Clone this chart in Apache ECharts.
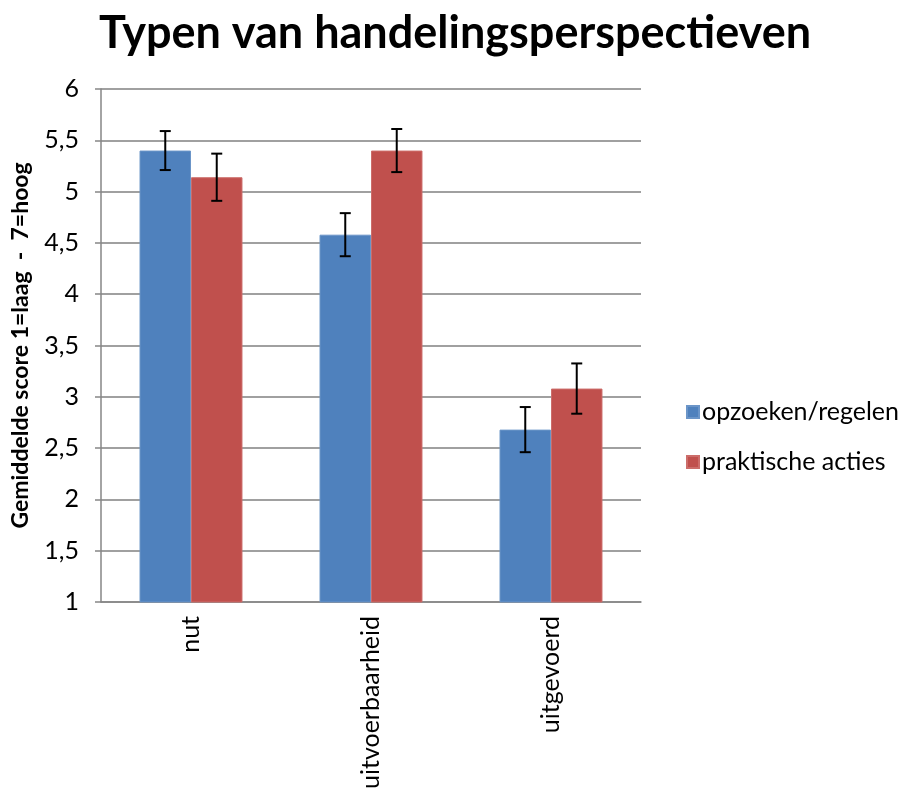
<!DOCTYPE html>
<html>
<head>
<meta charset="utf-8">
<script src="https://cdn.jsdelivr.net/npm/echarts@6/dist/echarts.min.js"></script>
<style>
  html, body { margin: 0; padding: 0; background: #fff; }
  #chart { width: 903px; height: 792px; }
</style>
</head>
<body>
<div id="chart"></div>
<script>
var categories = ['nut', 'uitvoerbaarheid', 'uitgevoerd'];
var opzoeken = [5.40, 4.58, 2.68];
var opzoekenErr = [0.19, 0.21, 0.22];
var praktisch = [5.14, 5.40, 3.08];
var praktischErr = [0.23, 0.21, 0.245];

var FONT = 'Lato, "Open Sans", sans-serif';
var barFrac = 0.286;

function errData(vals, errs) {
    return vals.map(function (v, i) {
        return [i, v - errs[i], v + errs[i]];
    });
}

// foutbalk links (-1) of rechts (+1) van het categoriemidden
function errRender(side) {
    return function (params, api) {
        var i = api.value(0);
        var lo = api.coord([i, api.value(1)]);
        var hi = api.coord([i, api.value(2)]);
        var bw = api.size([1, 0])[0] * barFrac;
        var x = lo[0] + side * bw / 2;
        var cap = 5.5;
        var st = { stroke: '#000', lineWidth: 2 };
        return {
            type: 'group',
            children: [
                { type: 'line', shape: { x1: x, y1: hi[1], x2: x, y2: lo[1] }, style: st },
                { type: 'line', shape: { x1: x - cap, y1: hi[1], x2: x + cap, y2: hi[1] }, style: st },
                { type: 'line', shape: { x1: x - cap, y1: lo[1], x2: x + cap, y2: lo[1] }, style: st }
            ]
        };
    };
}

var chart = echarts.init(document.getElementById('chart'));
chart.setOption({
    animation: false,
    title: {
        text: 'Typen van handelingsperspectieven',
        left: 450,
        textAlign: 'center',
        top: 6,
        textStyle: { fontFamily: FONT, fontSize: 45, fontWeight: 'bold', color: '#000' }
    },
    legend: {
        orient: 'vertical',
        left: 681,
        top: 393,
        itemWidth: 12,
        itemHeight: 12,
        itemGap: 22,
        icon: 'rect',
        data: ['opzoeken/regelen', 'praktische acties'],
        textStyle: { fontFamily: FONT, fontSize: 25, lineHeight: 28, color: '#000', padding: [0, 0, 0, -2] }
    },
    grid: { left: 101, right: 262, top: 89, bottom: 190 },
    xAxis: {
        type: 'category',
        data: categories,
        axisLine: { lineStyle: { color: '#868686', width: 1.5 } },
        axisTick: { show: false },
        axisLabel: {
            rotate: 90,
            margin: 14,
            fontFamily: FONT,
            fontSize: 25,
            color: '#000'
        }
    },
    yAxis: {
        type: 'value',
        min: 1,
        max: 6,
        interval: 0.5,
        name: 'Gemiddelde score 1=laag  -  7=hoog',
        nameLocation: 'middle',
        nameGap: 69,
        nameTextStyle: { fontFamily: FONT, fontSize: 23, fontWeight: 'bold', color: '#000' },
        axisLine: { show: true, lineStyle: { color: '#868686', width: 1.5 } },
        axisTick: { show: true, length: 6, lineStyle: { color: '#868686', width: 1.5 } },
        axisLabel: {
            margin: 22,
            fontFamily: FONT,
            fontSize: 25,
            color: '#000',
            formatter: function (v) { return String(v).replace('.', ','); }
        },
        splitLine: { lineStyle: { color: '#a0a0a0', width: 2 } }
    },
    series: [
        {
            name: 'opzoeken/regelen',
            type: 'bar',
            data: opzoeken,
            barGap: '0%',
            barCategoryGap: '42.8%',
            itemStyle: { color: '#4F81BD', borderColor: '#6b95c8', borderWidth: 1 }
        },
        {
            name: 'praktische acties',
            type: 'bar',
            data: praktisch,
            itemStyle: { color: '#C0504D', borderColor: '#cc6d6a', borderWidth: 1 }
        },
        {
            type: 'custom',
            renderItem: errRender(-1),
            data: errData(opzoeken, opzoekenErr),
            z: 10
        },
        {
            type: 'custom',
            renderItem: errRender(1),
            data: errData(praktisch, praktischErr),
            z: 10
        }
    ]
});
</script>
</body>
</html>
